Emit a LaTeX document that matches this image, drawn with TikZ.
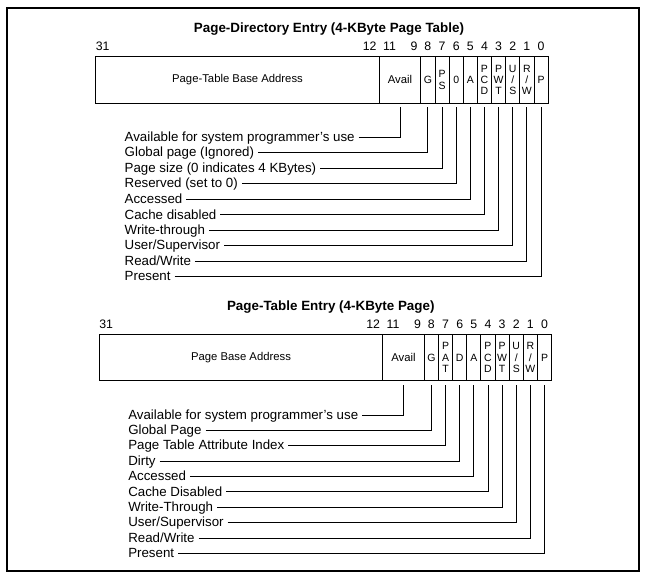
\documentclass[tikz,border=0pt]{standalone}
\usepackage{fontspec}
\setmainfont{Liberation Sans}
\begin{document}
\begin{tikzpicture}[x=1bp,y=-1bp,
  every node/.style={inner sep=0pt, outer sep=0pt},
  cell/.style={draw, line width=0.9bp, minimum height=46.4bp, anchor=north west,
    font=\fontsize{10.5bp}{11.3bp}\selectfont, align=center},
  widecell/.style={cell, font=\fontsize{11.3bp}{13bp}\selectfont},
  bitcell/.style={cell, minimum width=14.15bp},
  ttl/.style={font=\fontsize{13.4bp}{16bp}\selectfont\bfseries, anchor=base},
  bitno/.style={font=\fontsize{12.3bp}{14bp}\selectfont, anchor=base},
  lbl/.style={font=\fontsize{13.3bp}{16bp}\selectfont, anchor=west,
    text height=8.4bp, text depth=0pt, outer xsep=4bp},
  leader/.style={draw, line width=0.9bp}
]
\useasboundingbox (0,0) rectangle (650,575);
\draw[line width=1.2bp] (7,8) rectangle (639,571);

% ---------------- top: page-directory entry ----------------
\node[ttl] (t1) at (329,32.5) {Page-Directory Entry (4-KByte Page Table)};
\node[widecell, minimum width=283.4bp] (b1) at (95.8,56.6) {Page-Table Base Address};
\node[widecell, minimum width=41.6bp] (av1) at (b1.north east) {Avail};
\node[bitcell] (g1) at (av1.north east) {G};
\node[bitcell] (ps1) at (g1.north east) {P\\S};
\node[bitcell] (z1) at (ps1.north east) {0};
\node[bitcell] (a1) at (z1.north east) {A};
\node[bitcell] (pcd1) at (a1.north east) {P\\C\\D};
\node[bitcell] (pwt1) at (pcd1.north east) {P\\W\\T};
\node[bitcell] (us1) at (pwt1.north east) {U\\/\\S};
\node[bitcell] (rw1) at (us1.north east) {R\\/\\W};
\node[bitcell] (p1) at (rw1.north east) {P};

\node[bitno, anchor=base west] (n31a) at (95.8,50.6) {31};
\node[bitno, anchor=base east] (n12a) at (376.5,50.6) {12};
\node[bitno] (n11a) at (389.5,50.6) {11};
\node[bitno] (n9a) at (414,50.6) {9};
\node[bitno] (n8a) at (427.9,50.6) {8};
\node[bitno] (n7a) at (442.0,50.6) {7};
\node[bitno] (n6a) at (456.2,50.6) {6};
\node[bitno] (n5a) at (470.3,50.6) {5};
\node[bitno] (n4a) at (484.5,50.6) {4};
\node[bitno] (n3a) at (498.6,50.6) {3};
\node[bitno] (n2a) at (512.8,50.6) {2};
\node[bitno] (n1a) at (526.9,50.6) {1};
\node[bitno] (n0a) at (541.1,50.6) {0};

\node[lbl] (la1) at (120.7,137.3) {Available for system programmer’s use};
\node[lbl] (la2) at (120.7,152.8) {Global page (Ignored)};
\node[lbl] (la3) at (120.7,168.3) {Page size (0 indicates 4 KBytes)};
\node[lbl] (la4) at (120.7,183.8) {Reserved (set to 0)};
\node[lbl] (la5) at (120.7,199.3) {Accessed};
\node[lbl] (la6) at (120.7,214.8) {Cache disabled};
\node[lbl] (la7) at (120.7,230.2) {Write-through};
\node[lbl] (la8) at (120.7,245.7) {User/Supervisor};
\node[lbl] (la9) at (120.7,261.2) {Read/Write};
\node[lbl] (la10) at (120.7,276.7) {Present};

\draw[leader] (la1.east) -| ([yshift=-4bp]av1.south);
\draw[leader] (la2.east) -| ([yshift=-4bp]g1.south);
\draw[leader] (la3.east) -| ([yshift=-4bp]ps1.south);
\draw[leader] (la4.east) -| ([yshift=-4bp]z1.south);
\draw[leader] (la5.east) -| ([yshift=-4bp]a1.south);
\draw[leader] (la6.east) -| ([yshift=-4bp]pcd1.south);
\draw[leader] (la7.east) -| ([yshift=-4bp]pwt1.south);
\draw[leader] (la8.east) -| ([yshift=-4bp]us1.south);
\draw[leader] (la9.east) -| ([yshift=-4bp]rw1.south);
\draw[leader] (la10.east) -| ([yshift=-4bp]p1.south);

% ---------------- bottom: page-table entry ----------------
\node[ttl] (t2) at (330.8,310) {Page-Table Entry (4-KByte Page)};
\node[widecell, minimum width=283.4bp] (b2) at (99.3,334.3) {Page Base Address};
\node[widecell, minimum width=41.6bp] (av2) at (b2.north east) {Avail};
\node[bitcell] (g2) at (av2.north east) {G};
\node[bitcell] (pat2) at (g2.north east) {P\\A\\T};
\node[bitcell] (d2) at (pat2.north east) {D};
\node[bitcell] (a2) at (d2.north east) {A};
\node[bitcell] (pcd2) at (a2.north east) {P\\C\\D};
\node[bitcell] (pwt2) at (pcd2.north east) {P\\W\\T};
\node[bitcell] (us2) at (pwt2.north east) {U\\/\\S};
\node[bitcell] (rw2) at (us2.north east) {R\\/\\W};
\node[bitcell] (p2) at (rw2.north east) {P};

\node[bitno, anchor=base west] (n31b) at (99.3,328.3) {31};
\node[bitno, anchor=base east] (n12b) at (380,328.3) {12};
\node[bitno] (n11b) at (393,328.3) {11};
\node[bitno] (n9b) at (417.5,328.3) {9};
\node[bitno] (n8b) at (431.4,328.3) {8};
\node[bitno] (n7b) at (445.5,328.3) {7};
\node[bitno] (n6b) at (459.7,328.3) {6};
\node[bitno] (n5b) at (473.8,328.3) {5};
\node[bitno] (n4b) at (488.0,328.3) {4};
\node[bitno] (n3b) at (502.1,328.3) {3};
\node[bitno] (n2b) at (516.3,328.3) {2};
\node[bitno] (n1b) at (530.4,328.3) {1};
\node[bitno] (n0b) at (544.6,328.3) {0};

\node[lbl] (lb1) at (124.3,415.0) {Available for system programmer’s use};
\node[lbl] (lb2) at (124.3,430.4) {Global Page};
\node[lbl] (lb3) at (124.3,445.7) {Page Table Attribute Index};
\node[lbl] (lb4) at (124.3,461.1) {Dirty};
\node[lbl] (lb5) at (124.3,476.5) {Accessed};
\node[lbl] (lb6) at (124.3,491.9) {Cache Disabled};
\node[lbl] (lb7) at (124.3,507.2) {Write-Through};
\node[lbl] (lb8) at (124.3,522.6) {User/Supervisor};
\node[lbl] (lb9) at (124.3,538.0) {Read/Write};
\node[lbl] (lb10) at (124.3,553.3) {Present};

\draw[leader] (lb1.east) -| ([yshift=-4bp]av2.south);
\draw[leader] (lb2.east) -| ([yshift=-4bp]g2.south);
\draw[leader] (lb3.east) -| ([yshift=-4bp]pat2.south);
\draw[leader] (lb4.east) -| ([yshift=-4bp]d2.south);
\draw[leader] (lb5.east) -| ([yshift=-4bp]a2.south);
\draw[leader] (lb6.east) -| ([yshift=-4bp]pcd2.south);
\draw[leader] (lb7.east) -| ([yshift=-4bp]pwt2.south);
\draw[leader] (lb8.east) -| ([yshift=-4bp]us2.south);
\draw[leader] (lb9.east) -| ([yshift=-4bp]rw2.south);
\draw[leader] (lb10.east) -| ([yshift=-4bp]p2.south);
\end{tikzpicture}
\end{document}
